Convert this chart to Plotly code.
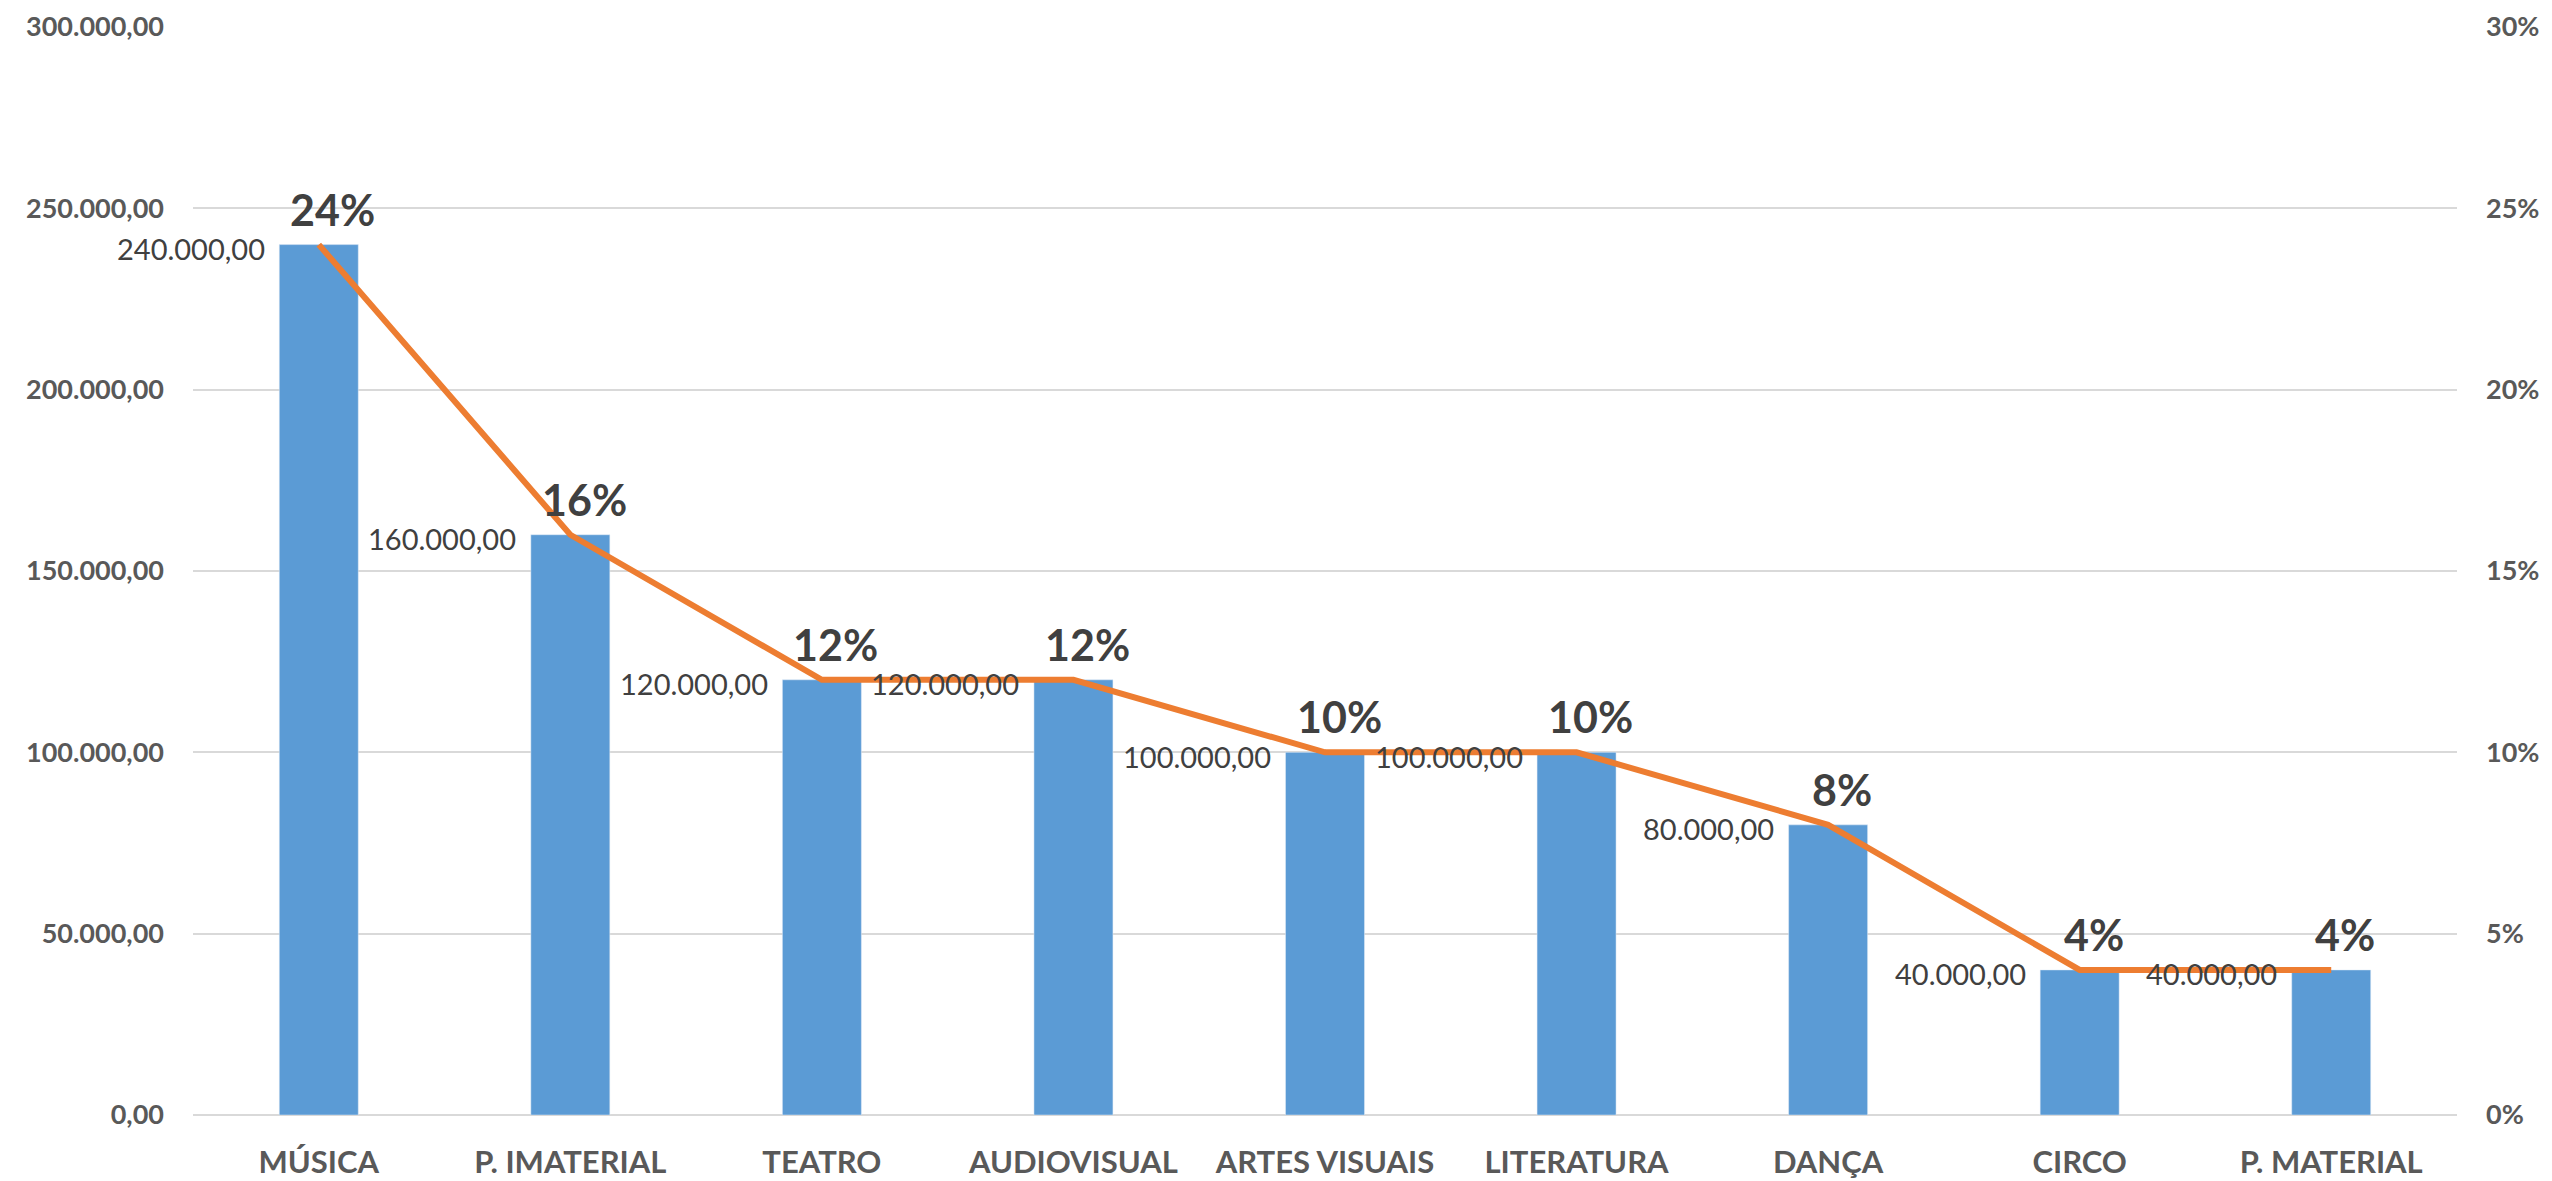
import plotly.graph_objects as go

categories = ["MÚSICA", "P. IMATERIAL", "TEATRO", "AUDIOVISUAL", "ARTES VISUAIS",
              "LITERATURA", "DANÇA", "CIRCO", "P. MATERIAL"]
valores = [240000, 160000, 120000, 120000, 100000, 100000, 80000, 40000, 40000]
percentuais = [0.24, 0.16, 0.12, 0.12, 0.10, 0.10, 0.08, 0.04, 0.04]

FONT = "Lato"
BLUE = "#5B9BD5"
ORANGE = "#ED7D31"
GRID = "#D9D9D9"
TICK = "#595959"
LABEL = "#404040"


def brl(v):
    s = f"{v:,.2f}"
    return s.replace(",", "X").replace(".", ",").replace("X", ".")


fig = go.Figure()
fig.add_trace(go.Bar(x=categories, y=valores, marker_color=BLUE, width=0.314,
                     name="Valor", hoverinfo="skip"))
fig.add_trace(go.Scatter(x=categories, y=percentuais, yaxis="y2", mode="lines",
                         line=dict(color=ORANGE, width=6), name="%"))

annotations = []
for cat, v, p in zip(categories, valores, percentuais):
    annotations.append(dict(
        x=cat, y=v, xref="x", yref="y", text=brl(v), showarrow=False,
        xanchor="right", yanchor="middle", xshift=-52, yshift=-4,
        font=dict(family=FONT, size=29, color=LABEL),
    ))
    annotations.append(dict(
        x=cat, y=p, xref="x", yref="y2", text=f"{p:.0%}", showarrow=False,
        xanchor="center", yanchor="bottom", xshift=14, yshift=8,
        font=dict(family=FONT, size=43, color=LABEL, weight="bold"),
    ))

# page body keeps an 8px default margin, so the figure is 8px smaller
fig.update_layout(
    width=2544, height=1173,
    margin=dict(l=185, r=95, t=19, b=66),
    plot_bgcolor="white", paper_bgcolor="white",
    showlegend=False,
    separators=",.",
    annotations=annotations,
    font=dict(family=FONT),
    xaxis=dict(
        range=[-0.5, len(categories) - 0.5], automargin=False,
        showgrid=False, showline=False, ticks="",
        ticklabelstandoff=26,
        tickfont=dict(family=FONT, size=31, color=TICK, weight="bold"),
    ),
    yaxis=dict(
        range=[0, 300000], dtick=50000, tickformat=",.2f", automargin=False,
        showgrid=True, gridcolor=GRID, gridwidth=2,
        zeroline=True, zerolinecolor=GRID, zerolinewidth=2,
        ticklabelstandoff=28,
        tickfont=dict(family=FONT, size=27, color=TICK, weight="bold"),
    ),
    yaxis2=dict(
        range=[0, 0.30], dtick=0.05, tickformat=".0%", automargin=False,
        overlaying="y", side="right", showgrid=False, zeroline=False,
        ticklabelstandoff=28,
        tickfont=dict(family=FONT, size=27, color=TICK, weight="bold"),
    ),
)

fig.write_html("out.html")
